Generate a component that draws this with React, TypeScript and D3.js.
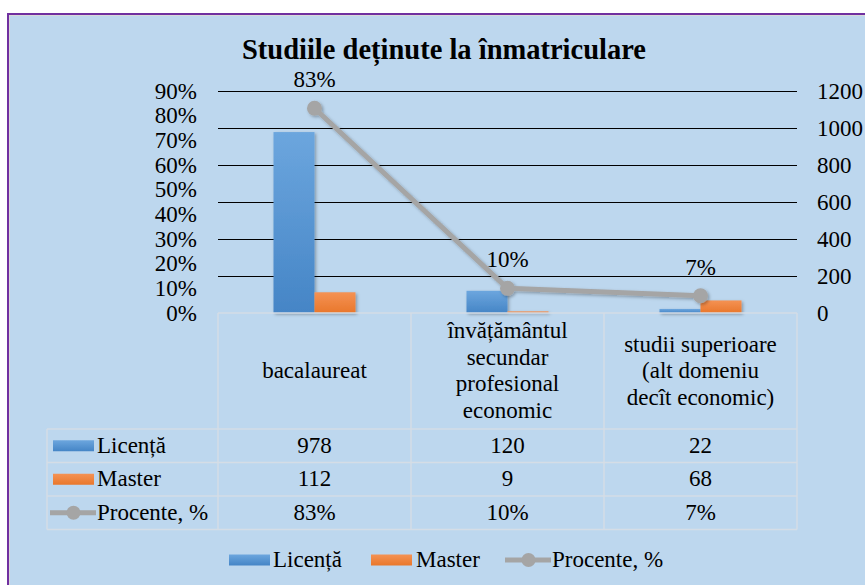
import React from "react";
import * as d3 from "d3";

const categories = [
  ["bacalaureat"],
  ["învățământul", "secundar", "profesional", "economic"],
  ["studii superioare", "(alt domeniu", "decît economic)"],
];
const licenta = [978, 120, 22];
const master = [112, 9, 68];
const procente = [0.83, 0.1, 0.07];
const leftTicks = [0, 0.1, 0.2, 0.3, 0.4, 0.5, 0.6, 0.7, 0.8, 0.9];
const rightTicks = [0, 200, 400, 600, 800, 1000, 1200];
const seriesNames = ["Licență", "Master", "Procente, %"];

const W = 865;
const H = 585;
const FONT = "Liberation Serif";
const GREY = "#A5A5A5";

export default function App() {
  const left = 218, right = 797, top = 91, bottom = 313;
  const idx = categories.map((_, i) => String(i));
  const x = d3.scaleBand().domain(idx).range([left, right]).padding(0);
  const yR = d3.scaleLinear().domain([0, 1200]).range([bottom, top]);
  const yL = d3.scaleLinear().domain([0, 0.9]).range([bottom, top]);
  const barW = 41;
  const cx = (i: number) => (x(String(i)) as number) + x.bandwidth() / 2;
  const pct = d3.format(".0%");
  const line = d3
    .line<number>()
    .x((_, i) => cx(i))
    .y((d) => yL(d));

  const tableTop = bottom;
  const headerBottom = 429;
  const rowH = 33.5;
  const tableLeft = 47;
  const rowY = (r: number) => headerBottom + r * rowH;
  const fs = 23;

  const keyFor = (s: number, kx: number, ky: number, w: number) => {
    if (s === 0)
      return <rect x={kx} y={ky - 5.5} width={w} height={11} fill="url(#gBlue)" />;
    if (s === 1)
      return <rect x={kx} y={ky - 5.5} width={w} height={11} fill="url(#gOrange)" />;
    return (
      <g>
        <line x1={kx - 3} x2={kx + w + 2} y1={ky} y2={ky} stroke={GREY} strokeWidth={5} />
        <circle cx={kx + w / 2} cy={ky} r={7} fill={GREY} />
      </g>
    );
  };

  const rowsData = [licenta.map(String), master.map(String), procente.map(pct)];

  return (
    <svg width={W} height={H} style={{ position: "absolute", left: 0, top: 0 }}>
      <defs>
        <linearGradient id="gBlue" x1="0" y1="0" x2="0" y2="1">
          <stop offset="0" stopColor="#6CA6DE" />
          <stop offset="1" stopColor="#4585C6" />
        </linearGradient>
        <linearGradient id="gOrange" x1="0" y1="0" x2="0" y2="1">
          <stop offset="0" stopColor="#F49254" />
          <stop offset="1" stopColor="#E9772B" />
        </linearGradient>
        <filter id="sh" x="-20%" y="-20%" width="140%" height="140%">
          <feDropShadow dx="1.5" dy="1.5" stdDeviation="1.5" floodColor="#000" floodOpacity="0.3" />
        </filter>
      </defs>
      <g fontFamily={FONT} fill="#000">
        <rect x={0} y={0} width={W} height={H} fill="#fff" />
        <rect x={9} y={15} width={W - 9} height={H - 15} fill="#D9D9D9" />
        <rect x={10} y={16} width={W - 10} height={H - 16} fill="#BDD7EE" />
        <rect x={7} y={13} width={W - 7} height={2} fill="#7030A0" />
        <rect x={7} y={13} width={2} height={H - 13} fill="#7030A0" />

        <text x={444} y={59} textAnchor="middle" fontSize={28.5} fontWeight="bold" fontFamily={FONT}>
          Studiile deținute la înmatriculare
        </text>

        {rightTicks
          .filter((t) => t > 0)
          .map((t) => (
            <line key={t} x1={left} x2={right} y1={Math.round(yR(t)) + 0.5} y2={Math.round(yR(t)) + 0.5} stroke="#000" strokeWidth={1} />
          ))}
        {leftTicks.map((t) => (
          <text key={t} x={197} y={yL(t) + 7.5} textAnchor="end" fontSize={fs} fontFamily={FONT}>
            {pct(t)}
          </text>
        ))}
        {rightTicks.map((t) => (
          <text key={t} x={817} y={yR(t) + 7.5} textAnchor="start" fontSize={fs} fontFamily={FONT}>
            {t}
          </text>
        ))}

        <g filter="url(#sh)">
          {licenta.map((v, i) => (
            <rect key={"l" + i} x={cx(i) - barW} y={yR(v)} width={barW} height={bottom - yR(v)} fill="url(#gBlue)" />
          ))}
          {master.map((v, i) => (
            <rect key={"m" + i} x={cx(i)} y={yR(v)} width={barW} height={bottom - yR(v)} fill="url(#gOrange)" />
          ))}
        </g>

        <g filter="url(#sh)">
          <path d={line(procente) || ""} fill="none" stroke={GREY} strokeWidth={5} strokeLinejoin="round" />
          {procente.map((p, i) => (
            <circle key={i} cx={cx(i)} cy={yL(p)} r={7.5} fill={GREY} />
          ))}
        </g>
        {procente.map((p, i) => (
          <text key={i} x={cx(i)} y={yL(p) - 21} textAnchor="middle" fontSize={fs} fontFamily={FONT}>
            {pct(p)}
          </text>
        ))}

        <g stroke="#D5DDE6" strokeWidth={1.5} fill="none">
          <line x1={left} x2={right} y1={tableTop} y2={tableTop} />
          {[0, 1, 2, 3].map((r) => (
            <line key={r} x1={tableLeft} x2={right} y1={rowY(r)} y2={rowY(r)} />
          ))}
          <line x1={tableLeft} x2={tableLeft} y1={headerBottom} y2={rowY(3)} />
          {[0, 1, 2, 3].map((c) => {
            const xx = left + c * x.bandwidth();
            return <line key={c} x1={xx} x2={xx} y1={tableTop} y2={rowY(3)} />;
          })}
        </g>
        {categories.map((lines, i) => {
          const lh = 26.5;
          const mid = (tableTop + headerBottom) / 2 + 7;
          const start = mid - ((lines.length - 1) * lh) / 2;
          return (
            <text key={i} x={cx(i)} textAnchor="middle" fontSize={fs} fontFamily={FONT}>
              {lines.map((ln, j) => (
                <tspan key={j} x={cx(i)} y={start + j * lh}>
                  {ln}
                </tspan>
              ))}
            </text>
          );
        })}
        {rowsData.map((row, r) => {
          const yc = rowY(r) + rowH / 2;
          return (
            <g key={r}>
              {keyFor(r, 53, yc, 41)}
              <text x={97} y={yc + 7} fontSize={fs} fontFamily={FONT}>
                {seriesNames[r]}
              </text>
              {row.map((v, i) => (
                <text key={i} x={cx(i)} y={yc + 7} textAnchor="middle" fontSize={fs} fontFamily={FONT}>
                  {v}
                </text>
              ))}
            </g>
          );
        })}

        {[
          [229, 273],
          [371, 416],
          [508, 552],
        ].map(([kx, tx], s) => (
          <g key={s}>
            {keyFor(s, kx, 560, 41)}
            <text x={tx} y={567} fontSize={fs} fontFamily={FONT}>
              {seriesNames[s]}
            </text>
          </g>
        ))}
      </g>
    </svg>
  );
}
